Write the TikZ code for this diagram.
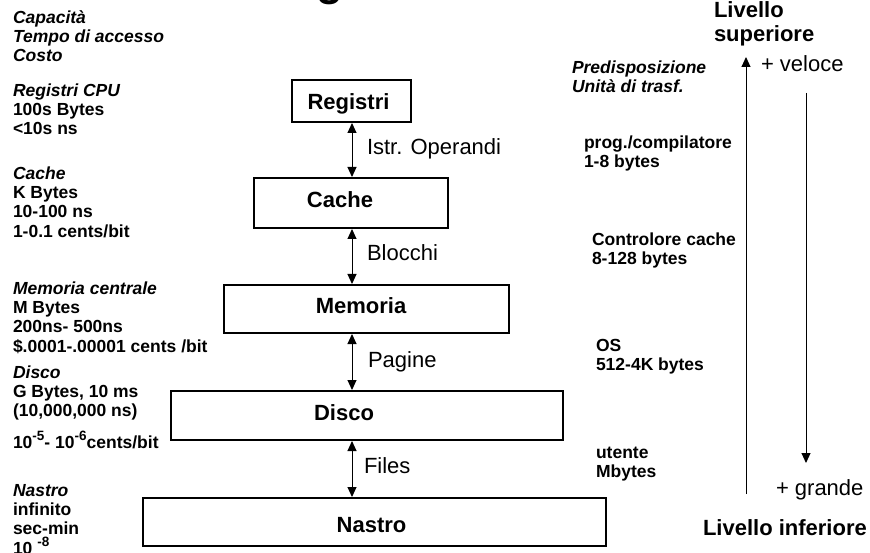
\documentclass[tikz,border=0pt]{standalone}
\usepackage{fontspec}
\setmainfont{Liberation Sans}
\usetikzlibrary{arrows.meta}
\begin{document}
\begin{tikzpicture}[x=1pt,y=-1pt,
  every node/.style={inner sep=0pt, outer sep=0pt},
  memb/.style={draw, line width=2pt, outer sep=1pt},
  boxtxt/.style={font=\fontsize{22}{24}\selectfont\bfseries, anchor=base},
  linktxt/.style={font=\fontsize{22}{24}\selectfont, anchor=base west},
  info/.style={font=\fontsize{17.5}{19.3}\selectfont\bfseries, align=left, anchor=north west},
  infoit/.style={info, font=\fontsize{17.5}{19.3}\selectfont\bfseries\itshape},
  level/.style={font=\fontsize{22}{21.5}\selectfont\bfseries, align=left},
  xfer/.style={{Triangle[width=9pt,length=10pt]}-{Triangle[width=9pt,length=10pt]}, line width=1pt},
  trend/.style={-{Triangle[width=9pt,length=10pt]}, line width=1pt}]

\useasboundingbox (0,0) rectangle (870,553);

% title glyph cut by the page edge: only the tail of its descender shows
\node[font=\fontsize{44}{44}\selectfont\bfseries, anchor=south west] (titleg) at (316,5) {g};

% memory levels
\node[memb, minimum width=119pt, minimum height=42pt] (registri) at (351.5,101) {};
\node[memb, minimum width=194pt, minimum height=50pt] (cache) at (351,203) {};
\node[memb, minimum width=285pt, minimum height=48pt] (memoria) at (366.5,309) {};
\node[memb, minimum width=392pt, minimum height=49pt] (disco) at (367,415.5) {};
\node[memb, minimum width=463pt, minimum height=48pt] (nastro) at (374.5,522) {};

\node[boxtxt] (registriT) at (348.5,110) {Registri};
\node[boxtxt] (cacheT) at (340,208) {Cache};
\node[boxtxt] (memoriaT) at (361,313.5) {Memoria};
\node[boxtxt] (discoT) at (344,420.5) {Disco};
\node[boxtxt] (nastroT) at (371.5,532.5) {Nastro};

% transfers between levels
\coordinate (axis) at (352,0);
\draw[xfer] (registri.south -| axis) -- (cache.north -| axis);
\draw[xfer] (cache.south -| axis) -- (memoria.north -| axis);
\draw[xfer] (memoria.south -| axis) -- (disco.north -| axis);
\draw[xfer] (disco.south -| axis) -- (nastro.north -| axis);

\node[linktxt] (l1) at (367,155) {Istr. Operandi};
\node[linktxt] (l2) at (367,261) {Blocchi};
\node[linktxt] (l3) at (368,367) {Pagine};
\node[linktxt] (l4) at (364,473) {Files};

% characteristics of each level
\node[infoit] (hdr) at (13,9.7) {\strut Capacità\\Tempo di accesso\\Costo};
\node[info] (iReg) at (13,82.7) {\strut{\itshape Registri CPU}\\100s Bytes\\<10s ns};
\node[info] (iCache) at (13,165.7) {\strut{\itshape Cache}\\K Bytes\\10-100 ns\\1-0.1 cents/bit};
\node[info] (iMem) at (13,280.7) {\strut{\itshape Memoria centrale}\\M Bytes\\200ns- 500ns\\\$.0001-.00001 cents /bit};
\node[info] (iDisco) at (13,364.7) {\strut{\itshape Disco}\\G Bytes, 10 ms\\(10,000,000 ns)};
\node[info, anchor=base west] (iDiscoC) at (13,448)
  {10\raisebox{8pt}{\fontsize{13.5}{14}\selectfont -5}- 10\raisebox{8pt}{\fontsize{13.5}{14}\selectfont -6}cents/bit};
\node[info] (iNastro) at (13,482.7) {\strut{\itshape Nastro}\\infinito\\sec-min\\10 \raisebox{8pt}{\fontsize{13.5}{14}\selectfont -8}};

% transfer units
\node[infoit] (uHdr) at (572,59.7) {\strut Predisposizione\\Unità di trasf.};
\node[info] (u1) at (584,134.7) {\strut prog./compilatore\\1-8 bytes};
\node[info] (u2) at (592,231.7) {\strut Controlore cache\\8-128 bytes};
\node[info] (u3) at (596,337.7) {\strut OS\\512-4K bytes};
\node[info] (u4) at (596,444.7) {\strut utente\\Mbytes};

% speed / size trends
\node[level, anchor=north west] (top) at (714,1.95) {\strut Livello\\superiore};
\node[level, anchor=base west] (bottom) at (703,535) {Livello inferiore};
\node[linktxt] (fast) at (761,72) {+ veloce};
\node[linktxt] (big) at (776,495) {+ grande};

\coordinate (upS) at (746,494);
\coordinate (upE) at (746,57);
\coordinate (dnS) at (806,93);
\coordinate (dnE) at (806,463);
\draw[trend] (upS) -- (upE);
\draw[trend] (dnS) -- (dnE);
\end{tikzpicture}
\end{document}
